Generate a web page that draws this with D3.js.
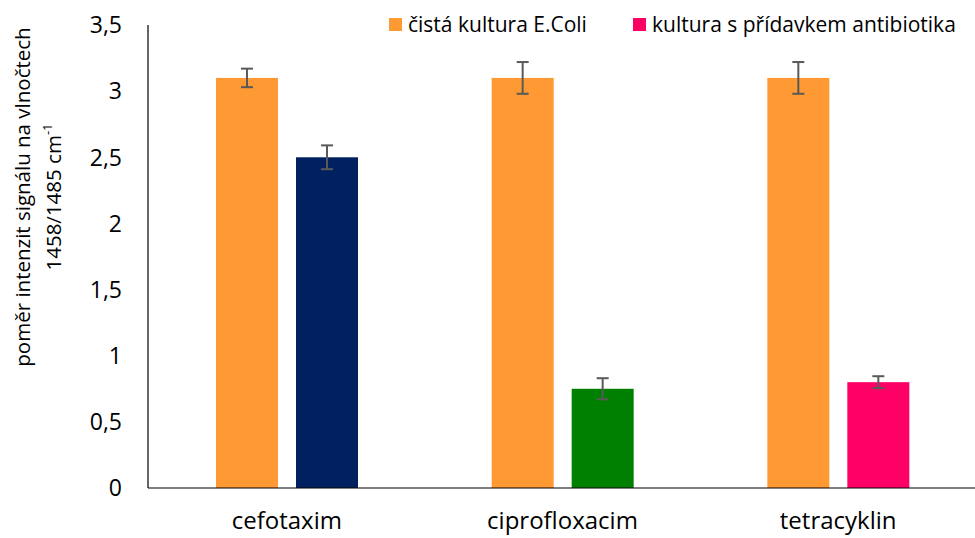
<!DOCTYPE html>
<html>
<head>
<meta charset="utf-8">
<script src="https://cdn.jsdelivr.net/npm/d3@7"></script>
<style>
  body { margin: 0; background: #fff; }
  svg text { font-family: "Open Sans", sans-serif; fill: #000; }
</style>
</head>
<body>
<svg id="chart" width="975" height="538"></svg>
<script>
var categories = ["cefotaxim", "ciprofloxacim", "tetracyklin"];
var pureValues = [3.1, 3.1, 3.1];
var pureErrors = [0.07, 0.12, 0.12];
var abValues = [2.5, 0.75, 0.8];
var abErrors = [0.09, 0.08, 0.045];
var abColors = ["#002060", "#008000", "#FF0066"];
var legendLabels = ["čistá kultura E.Coli", "kultura s přídavkem antibiotika"];
var yTicks = [0, 0.5, 1, 1.5, 2, 2.5, 3, 3.5];

var orange = "#FF9933";
var svg = d3.select("#chart");
var margin = {top: 25, right: 0, bottom: 50, left: 148};
var width = 975 - margin.left - margin.right,
    height = 538 - margin.top - margin.bottom;

var g = svg.append("g").attr("transform", "translate(" + margin.left + "," + margin.top + ")");

var y = d3.scaleLinear().domain([0, 3.5]).range([height, 0]);
var x0 = d3.scaleBand().domain(categories).range([0, width]).padding(0);
var x1 = d3.scaleBand().domain([0, 1]).range([68, 210]).paddingInner(0.225);

var fmt = function(d) { return String(d).replace(".", ","); };

// y tick labels
g.selectAll(".ylab")
  .data(yTicks)
  .enter().append("text")
    .attr("x", -26)
    .attr("y", function(d) { return y(d); })
    .attr("dy", "0.36em")
    .attr("text-anchor", "end")
    .style("font-size", "23px")
    .text(fmt);

// axes lines
g.append("line").attr("x1", 0).attr("x2", 0).attr("y1", 0).attr("y2", height)
  .attr("stroke", "#000").attr("stroke-width", 1.2);

var groups = g.selectAll(".grp")
  .data(categories)
  .enter().append("g")
    .attr("transform", function(d) { return "translate(" + x0(d) + ",0)"; });

var rows = categories.map(function(c, i) {
  return [
    {v: pureValues[i], e: pureErrors[i], c: orange, k: 0},
    {v: abValues[i], e: abErrors[i], c: abColors[i], k: 1}
  ];
});

groups.each(function(d, i) {
  var grp = d3.select(this);
  grp.selectAll("rect")
    .data(rows[i])
    .enter().append("rect")
      .attr("x", function(r) { return x1(r.k); })
      .attr("width", x1.bandwidth())
      .attr("y", function(r) { return y(r.v); })
      .attr("height", function(r) { return height - y(r.v); })
      .attr("fill", function(r) { return r.c; });

  var eb = grp.selectAll(".err")
    .data(rows[i])
    .enter().append("g")
      .attr("stroke", "#595959")
      .attr("stroke-width", 2);
  eb.append("line")
    .attr("x1", function(r) { return x1(r.k) + x1.bandwidth() / 2; })
    .attr("x2", function(r) { return x1(r.k) + x1.bandwidth() / 2; })
    .attr("y1", function(r) { return y(r.v + r.e); })
    .attr("y2", function(r) { return y(r.v - r.e); });
  eb.selectAll(".cap")
    .data(function(r) { return [r.v + r.e, r.v - r.e].map(function(v) { return {r: r, v: v}; }); })
    .enter().append("line")
      .attr("x1", function(p) { return x1(p.r.k) + x1.bandwidth() / 2 - 6; })
      .attr("x2", function(p) { return x1(p.r.k) + x1.bandwidth() / 2 + 6; })
      .attr("y1", function(p) { return y(p.v); })
      .attr("y2", function(p) { return y(p.v); });

  grp.append("text")
    .attr("x", x0.bandwidth() / 2 + 1)
    .attr("y", height + 41)
    .attr("text-anchor", "middle")
    .style("font-size", "24px")
    .text(d);
});

g.append("line").attr("x1", 0).attr("x2", width).attr("y1", height).attr("y2", height)
  .attr("stroke", "#000").attr("stroke-width", 1.2);

// y axis title
var title = svg.append("text")
  .attr("transform", "translate(30,197) rotate(-90)")
  .attr("text-anchor", "middle")
  .style("font-size", "20.5px");
title.append("tspan").attr("x", 0).attr("dy", 0).text("poměr intenzit signálu na vlnočtech");
title.append("tspan").attr("x", 0).attr("dy", "31px").text("1458/1485 cm");
title.append("tspan").attr("dy", "-9px").style("font-size", "13px").text("-1");

// legend
var legend = svg.append("g");
var legX = [389, 633];
var legCol = [orange, "#FF0066"];
legendLabels.forEach(function(l, i) {
  legend.append("rect").attr("x", legX[i]).attr("y", 18).attr("width", 13).attr("height", 13)
    .attr("fill", legCol[i]);
  legend.append("text").attr("x", legX[i] + 19).attr("y", 32)
    .style("font-size", "21px").text(l);
});
</script>
</body>
</html>
